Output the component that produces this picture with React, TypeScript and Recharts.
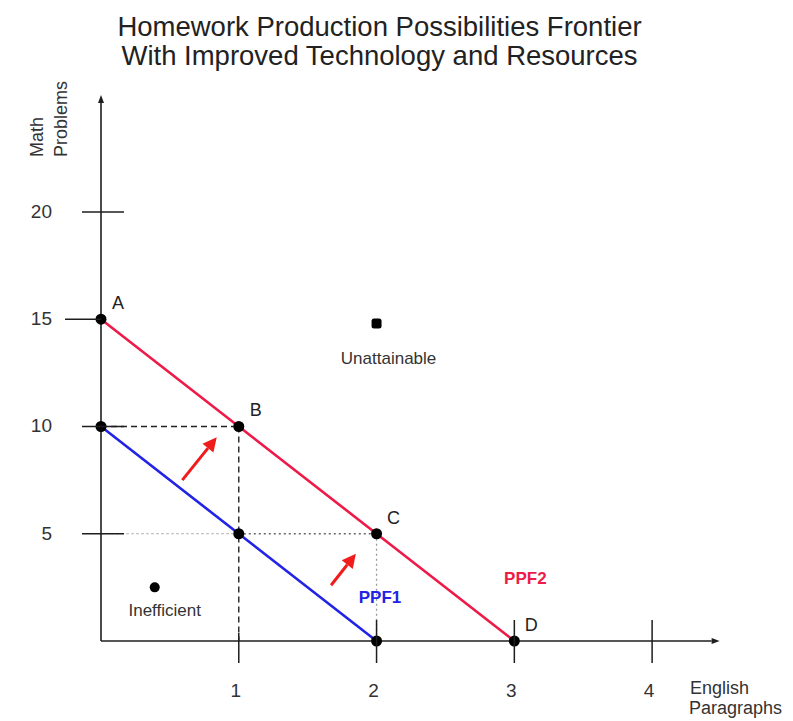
import React from 'react';
import { ComposedChart, Line, Scatter, XAxis, YAxis, ReferenceLine, ReferenceDot } from 'recharts';

// axis ticks
const englishTicks = [1, 2, 3, 4];
const mathTicks = [5, 10, 15, 20];

// frontiers
const ppf1English = [0, 1, 2];
const ppf1Math = [10, 5, 0];
const ppf2English = [0, 1, 2, 3];
const ppf2Math = [15, 10, 5, 0];
const ppf2Names = ['A', 'B', 'C', 'D'];

// points off the frontier
const otherEnglish = [2, 0.39];
const otherMath = [14.8, 2.5];
const otherNames = ['Unattainable', 'Inefficient'];

// shift arrows (from -> to)
const arrowFromEnglish = [0.59, 1.67];
const arrowFromMath = [7.5, 2.6];
const arrowToEnglish = [0.84, 1.85];
const arrowToMath = [9.5, 4.07];

const FONT = 'Arial, "Liberation Sans", sans-serif';
const INK = '#1e1e1e';
const RED = '#ee1a48';
const BLUE = '#2323e6';

const ppf1 = ppf1English.map((x, i) => ({ x, y: ppf1Math[i] }));
const ppf2 = ppf2English.map((x, i) => ({ x, y: ppf2Math[i], name: ppf2Names[i] }));
const others = otherEnglish.map((x, i) => ({ x, y: otherMath[i], name: otherNames[i] }));
const arrows = arrowFromEnglish.map((x, i) => ({
  from: { x, y: arrowFromMath[i] },
  to: { x: arrowToEnglish[i], y: arrowToMath[i] },
}));

const arrowShape = (color: string, width: number, head: number, half: number) => (p: any) => {
  const { x1, y1, x2, y2 } = p;
  const dx = x2 - x1;
  const dy = y2 - y1;
  const len = Math.hypot(dx, dy) || 1;
  const ux = dx / len;
  const uy = dy / len;
  const bx = x2 - ux * head;
  const by = y2 - uy * head;
  return (
    <g>
      <line x1={x1} y1={y1} x2={bx} y2={by} stroke={color} strokeWidth={width} />
      <polygon
        points={`${x2},${y2} ${bx - uy * half},${by + ux * half} ${bx + uy * half},${by - ux * half}`}
        fill={color}
      />
    </g>
  );
};

const MathTick = (props: any) => {
  const { x, y, payload } = props;
  const left = payload.value === 15 ? 36 : 19;
  const right = payload.value === 15 ? 0 : 23;
  return (
    <g>
      <line x1={x - left} x2={x + right} y1={y} y2={y} stroke={INK} strokeWidth={1.5} />
      <text x={x - 49} y={y} dy={6} textAnchor="end" fontSize={19} fill="#333" fontFamily={FONT}>
        {payload.value}
      </text>
    </g>
  );
};

const EnglishTick = (props: any) => {
  const { x, y, payload } = props;
  const top = payload.value === 1 ? 8 : 21;
  return (
    <g>
      <line x1={x} x2={x} y1={y - top} y2={y + 22} stroke={INK} strokeWidth={1.5} />
      <text x={x - 3} y={y + 56} textAnchor="middle" fontSize={19} fill="#333" fontFamily={FONT}>
        {payload.value}
      </text>
    </g>
  );
};

const FrontierDot = (p: any) => (
  <g>
    <circle cx={p.cx} cy={p.cy} r={5.5} fill="#000" />
    <text x={p.cx + 17} y={p.cy - 10} textAnchor="middle" fontSize={18} fill="#222" fontFamily={FONT}>
      {p.payload.name}
    </text>
  </g>
);

const OtherDot = (p: any) => {
  const isUn = p.payload.name === 'Unattainable';
  return (
    <g>
      {isUn ? (
        <rect x={p.cx - 5} y={p.cy - 5} width={10} height={10} rx={2.5} fill="#000" />
      ) : (
        <circle cx={p.cx} cy={p.cy} r={5} fill="#000" />
      )}
      <text
        x={p.cx + (isUn ? 12 : 10)}
        y={p.cy + (isUn ? 40 : 29)}
        textAnchor="middle"
        fontSize={17}
        fill="#333"
        fontFamily={FONT}
      >
        {p.payload.name}
      </text>
    </g>
  );
};

const textAt = (label: string, color: string) => (p: any) => (
  <text x={p.cx} y={p.cy} textAnchor="middle" fontSize={17} fontWeight="bold" fill={color} fontFamily={FONT}>
    {label}
  </text>
);

export default function App() {
  return (
    <div style={{ position: 'absolute', left: 0, top: 0, width: 793, height: 721, background: '#fff', fontFamily: FONT }}>
      <div
        style={{
          position: 'absolute',
          top: 12,
          left: 0,
          width: 759,
          textAlign: 'center',
          fontSize: 27.5,
          lineHeight: '29px',
          color: '#222',
        }}
      >
        Homework Production Possibilities Frontier
        <br />
        With Improved Technology and Resources
      </div>

      <svg style={{ position: 'absolute', left: 0, top: 0 }} width={793} height={721}>
        <text transform="translate(43,157) rotate(-90)" fontSize={18} fill="#333" fontFamily={FONT}>Math</text>
        <text transform="translate(67,157) rotate(-90)" fontSize={18} fill="#333" fontFamily={FONT}>Problems</text>
        <text x={690} y={694} fontSize={18} fill="#333" fontFamily={FONT}>English</text>
        <text x={689} y={714} fontSize={18} fill="#333" fontFamily={FONT}>Paragraphs</text>
      </svg>

      <div style={{ position: 'absolute', left: 0, top: 0 }}>
        <ComposedChart width={793} height={721} margin={{ top: 94, right: 72, bottom: 0, left: 0 }}>
          <XAxis
            type="number"
            dataKey="x"
            domain={[0, 4.5]}
            ticks={englishTicks}
            axisLine={false}
            tickLine={false}
            tickSize={0}
            tickMargin={0}
            tick={<EnglishTick />}
            height={80}
          />
          <YAxis
            type="number"
            dataKey="y"
            domain={[0, 25.5]}
            ticks={mathTicks}
            axisLine={false}
            tickLine={false}
            tickSize={0}
            tickMargin={0}
            tick={<MathTick />}
            width={101}
          />

          {/* guide lines */}
          <ReferenceLine segment={[{ x: 0, y: 5 }, { x: 1, y: 5 }]} stroke="#b5b5b5" strokeWidth={1} strokeDasharray="3 2" ifOverflow="visible" />
          <ReferenceLine segment={[{ x: 1, y: 5 }, { x: 2, y: 5 }]} stroke="#666" strokeWidth={1.3} strokeDasharray="2 3" ifOverflow="visible" />
          <ReferenceLine segment={[{ x: 2, y: 5 }, { x: 2, y: 0 }]} stroke="#999" strokeWidth={1.3} strokeDasharray="2 3" ifOverflow="visible" />
          <ReferenceLine segment={[{ x: 0, y: 10 }, { x: 1, y: 10 }]} stroke="#222" strokeWidth={1.4} strokeDasharray="6 4" ifOverflow="visible" />
          <ReferenceLine segment={[{ x: 1, y: 10 }, { x: 1, y: 0 }]} stroke="#222" strokeWidth={1.4} strokeDasharray="6 4" ifOverflow="visible" />

          {/* axes with arrows */}
          <ReferenceLine segment={[{ x: 0, y: 0 }, { x: 4.49, y: 0 }]} ifOverflow="visible" shape={arrowShape(INK, 1.6, 8, 3)} />
          <ReferenceLine segment={[{ x: 0, y: 0 }, { x: 0, y: 25.45 }]} ifOverflow="visible" shape={arrowShape(INK, 1.6, 8, 3)} />

          {/* shift arrows */}
          {arrows.map((a, i) => (
            <ReferenceLine key={i} segment={[a.from, a.to]} ifOverflow="visible" shape={arrowShape('#f01c1c', 3, 14, 7)} />
          ))}

          <Line data={ppf1} dataKey="y" stroke={BLUE} strokeWidth={2.6} dot={false} isAnimationActive={false} />
          <Line data={ppf2} dataKey="y" stroke={RED} strokeWidth={2.6} dot={false} isAnimationActive={false} />

          <Scatter data={ppf1} fill="#000" shape={(p: any) => <circle cx={p.cx} cy={p.cy} r={5.5} fill="#000" />} isAnimationActive={false} />
          <Scatter data={ppf2} fill="#000" shape={FrontierDot} isAnimationActive={false} />
          <Scatter data={others} fill="#000" shape={OtherDot} isAnimationActive={false} />

          <ReferenceDot x={2.025} y={1.77} r={0} shape={textAt('PPF1', BLUE)} ifOverflow="visible" />
          <ReferenceDot x={3.08} y={2.66} r={0} shape={textAt('PPF2', RED)} ifOverflow="visible" />
        </ComposedChart>
      </div>
    </div>
  );
}
